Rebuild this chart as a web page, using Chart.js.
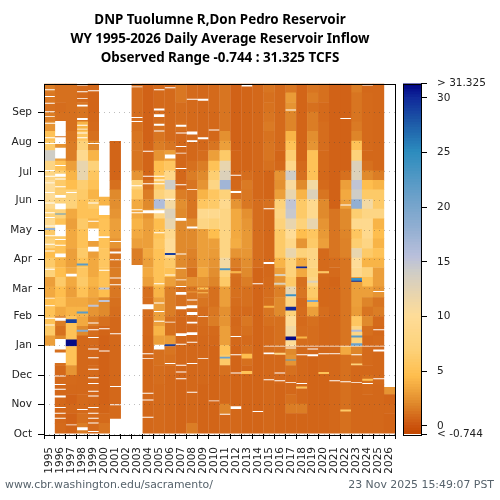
<!DOCTYPE html>
<html>
<head>
<meta charset="utf-8">
<title>Don Pedro Reservoir Inflow</title>
<script src="https://cdn.jsdelivr.net/npm/chart.js@4"></script>
<style>
    html, body { margin: 0; padding: 0; background: #fff; }
    canvas { position: absolute; left: 0; top: 0; }
    #heading { position: absolute; left: 0; top: 10px; width: 440px; text-align: center; font: bold 13.4px/19px "Noto Sans", sans-serif; color: #000; white-space: nowrap; }
    .foot { position: absolute; top: 478px; font: 10.9px/14px "DejaVu Sans", sans-serif; color: #56626b; white-space: nowrap; }
</style>
</head>
<body>
<canvas id="heat" width="500" height="500"></canvas>
<canvas id="bar" width="500" height="500"></canvas>
<div id="heading">DNP Tuolumne R,Don Pedro Reservoir<br>WY 1995-2026 Daily Average Reservoir Inflow<br>Observed Range -0.744 : 31.325 TCFS</div>
<div class="foot" style="left:5px">www.cbr.washington.edu/sacramento/</div>
<div class="foot" style="right:6px">23 Nov 2025 15:49:07 PST</div>
<script>
const years = ['1995','1996','1997','1998','1999','2000','2001','2002','2003','2004','2005','2006','2007','2008','2009','2010','2011','2012','2013','2014','2015','2016','2017','2018','2019','2020','2021','2022','2023','2024','2025','2026'];
const monthNames = ['Oct','Nov','Dec','Jan','Feb','Mar','Apr','May','Jun','Jul','Aug','Sep'];
const monthDays = [0,31,61,92,123,151,182,212,243,273,304,335];
const barTicks = [0,5,10,15,20,25,30];

// kcfs, three values per month, Oct first
const wy1995 = [null,null,null, null,null,null, null,null,null, 3,6,5, 5,4.5,3.5, 3,7,6, 4.5,7,6, 9,7,9, 10,10,8, 8,14,6, 5,2.5,1.5, 1,1.3,1.5];
const wy1996 = [.8,.7,.7, .7,.7,.8, .7,1,1, 2,1,1.5, 3.5,5,4.5, 6,4.5,4, 5,5,6, 5,7,7, 6.5,6,6.5, 5,3,2.5, 1.2,1,1, .9,1,1];
const wy1997 = [.6,.5,.7, .5,.7,.8, 2.5,5,5, 5,5,5, 4,3.5,3, 3.5,3.5,3, 3,3.5,3.5, 3,3.5,7, 7,4.5,4, 3,1.5,1.5, 1.3,1,1, 1,1,1];
const wy1998 = [1.5,1,.8, .8,.7,.7, .7,.7,.7, .7,2,3.5, 4,3.5,5, 6,5.5,5, 6,5,5, 6,5,5, 6,6.5,12, 12,9,7, 5.5,4,1.2, 1.2,.8,.8];
const wy1999 = [.8,.8,.8, .7,.7,.7, .8,.7,.7, .8,.9,1.5, 2.5,3,3.5, 4,3.5,3.5, 3,3,4, 4,5,6, 4,5,5.5, 7,4,2, 1,.8,.7, .6,.6,.7];
const wy2000 = [1.2,.8,.6, .5,.5,.5, .5,.5,.5, .5,.6,1, 2,2,4.5, 5,5,5.5, 5.5,5,5, 5,4.5,4, 4,null,null, null,null,null, null,null,null, null,null,null];
const wy2001 = [null,.8,.8, .7,.7,.7, .7,.7,.7, .7,.7,.7, .9,1,1.3, 1.3,1.5,1.3, 1.2,2.5,3, 3,2.5,2.2, 2,1,.6, .6,.6,.6, null,null,null, null,null,null];
const wy2002 = [null,null,null, null,null,null, null,null,null, null,null,null, null,null,null, null,null,null, null,null,null, null,null,null, null,null,null, null,null,null, null,null,null, null,null,null];
const wy2003 = [null,null,null, null,null,null, null,null,null, null,null,null, null,null,null, null,null,1.5, 1.5,3,3.5, 4,3.5,3.5, 5.5,7,2.5, 1.2,1.2,1.3, 1.2,1,.9, .9,.9,.9];
const wy2004 = [.7,.7,.7, .7,.7,.7, .7,.7,.7, .7,.8,.8, .9,.9,1, 3,3.5,3, 3.5,3,3, 3,2.5,2, 1.5,1,.6, .6,.6,.6, .5,.5,.5, .5,.5,.5];
const wy2005 = [.8,.8,.8, .8,.8,.9, .9,1,1, 3,4,3, 3,3,4, 5,5,5, 5,5.5,5, 4.5,8,16, 7,6,5, 4.5,2.5,1.5, 1.2,1,.9, .8,.8,.8];
const wy2006 = [.7,.7,.7, .7,.7,.7, .8,1,1.2, 2.8,1,1, 1.5,1.5,1.5, 3,5,6, 10,10,9, 12,13,11, 9,14,8.5, 5.5,3,1.2, .8,.8,.8, .8,.8,.8];
const wy2007 = [.6,.6,.6, .6,.6,.6, .6,.7,.7, .7,.7,.7, .8,1,1, 2,2.2,2, 2,2,2, 2,2,2.2, 1.5,.8,.7, .7,.7,.7, .7,1,.9, .9,1.3,1.3];
const wy2008 = [1.5,.7,.7, .7,.7,.7, .7,.7,.7, .7,.7,.8, .9,1.2,1.2, 2.3,1,1.5, 1.7,2,2, 2,1.2,1.2, 1.2,1.2,1.5, 1,.7,.7, .8,.8,.8, .8,.8,.8];
const wy2009 = [.6,.6,.6, .6,.6,.7, .7,.7,.7, .7,.8,.9, .9,1.2,1.5, 2.5,3.5,3, 3,3,3, 8,9,5.5, 4,2.5,2, 1.5,.9,.7, .7,.7,.7, .7,.7,.7];
const wy2010 = [.6,.6,.6, .6,.6,.6, .6,.6,.6, .7,.8,1.5, 1.3,1,1, 1.8,2.2,2.5, 2.8,3,4.5, 7,9,6, 5.5,8,6.5, 5,3,1.2, .7,.7,.7, .8,.8,.8];
const wy2011 = [.7,.7,1.8, .8,.8,.8, 1,6,5, 3,3,2.5, 2.3,3,3, 6,7,11, 8,8,8, 8,8,9, 7,17,13, 12,6,3, 2.3,1.2,1.2, 1.2,1.2,1.2];
const wy2012 = [.7,.7,.7, .6,.6,.6, .6,.6,.6, .7,.8,.7, .8,.9,1, .9,1,1.5, 2.5,3.7,3.5, 3.5,3.5,2.5, 1.1,.7,.6, .6,.6,.5, .5,.5,.5, .5,.5,.5];
const wy2013 = [.6,.6,.6, .6,.6,.6, .7,1,1, .8,1,1.3, .8,1,1, 1.5,2,2.2, 2.6,2.7,2.7, 2.6,2.3,1.3, 1.3,1.4,.9, .6,.6,.6, .6,.6,.6, .6,.6,.6];
const wy2014 = [.6,.6,.6, .6,.6,.6, .6,.6,.6, .6,.6,.6, .6,.6,.6, .6,.6,.9, .9,.9,.9, .9,.9,.9, .7,.7,.7, .7,.7,.7, .7,.7,.7, .7,.7,.7];
const wy2015 = [.7,.7,.7, .7,.7,.7, .7,.7,.9, .8,.8,1, 1.2,1,.9, .8,.7,.7, .7,.7,.7, .7,.7,1, .6,.6,.6, 1,1.2,1.2, 1.1,1.4,1.2, 1.1,1,1.2];
const wy2016 = [.6,.6,.6, .6,.6,.7, .7,.7,1, 1,1,1, 2,2,1.6, 2.5,3,4, 6,6,6, 7,8,7, 3,2.3,2.5, .7,.6,.8, .8,.8,.8, .8,.8,.8];
const wy2017 = [.6,.6,1.5, 1,.7,.7, 1,2.5,2, 10,11,10, 7,8,12, 6,7,7, 12,8.5,10, 12,14.5,15, 12,10.5,14, 8.5,6.5,5, 4,1.8,1.8, 2.5,2.8,1.3];
const wy2018 = [.6,.6,1.5, .7,.7,.7, .7,.7,.8, .9,.9,.8, .9,.8,1.2, 1,3.5,3.5, 7,2.5,4.5, 7,6,6, 4,2,1, .8,.6,.6, .6,.6,.6, .6,.6,.6];
const wy2019 = [.6,.6,.6, .6,.6,.6, .6,.6,.7, .9,.9,1, 3,5,6, 8,7,8, 8,6,5.5, 12,9,9, 13,11,5, 5,5,2.5, 2.2,1.5,1.5, 1,1.5,1.2];
const wy2020 = [.6,.6,.6, .6,.6,.6, .7,.7,.7, .7,.7,.7, .9,.7,.7, .7,.8,.8, .8,3,2.7, 2.5,2,2, 1.2,.8,.7, .8,.8,.9, .9,.9,.8, .8,1,1];
const wy2021 = [.7,.7,.7, .7,.7,.7, .7,.7,.8, .7,.7,.7, .7,.7,.7, .6,.8,.9, 1.2,1.2,1.2, 1.2,1.2,.5, .5,.5,.5, .5,.5,.5, .5,.5,.5, .5,.5,.5];
const wy2022 = [1,1,1, 1,1,1, 1,1,3.5, 1.2,1.2,1.2, 1.2,1.2,1.2, 1.2,1.2,1.2, 1.7,1.7,1.8, 2,2,3, 3.5,3,1, .5,.5,.5, .5,.5,.5, .5,.5,.5];
const wy2023 = [.7,.7,.7, .7,.7,.7, .7,1.2,1.8, 7,8,5.5, 2.8,3,3, 3,9,10, 12,6.5,5.5, 9,6.5,18, 14,15,13, 13,7,5, 1.8,1.4,1.2, 1.2,1.2,1.5];
const wy2024 = [.7,.7,.7, .7,.8,1, .7,.8,.8, .7,1,2, 1.2,1.8,3, 5,7,4, 6,8,9, 9,8,11, 6,4.5,2, 1,.7,.8, .8,.8,.8, .8,.8,.7];
const wy2025 = [.7,.7,.7, .7,.7,.8, .7,.7,.7, .8,.7,.8, 1.5,1.2,2.5, 3,3,4, 5,4,4.5, 4,8,6, 6,4,1.5, .7,.7,.7, .7,.7,.7, .7,.7,.7];
const wy2026 = [.6,.6,.7, .6,2.5,null, null,null,null, null,null,null, null,null,null, null,null,null, null,null,null, null,null,null, null,null,null, null,null,null, null,null,null, null,null,null];

// days without a reading: year, first day of water year, number of days
const gaps = [
    [1995,358,1],[1995,351,1],[1995,344,1],[1995,335,1],[1995,330,1],[1995,323,1],[1995,308,1],[1995,302,1],[1995,274,1],[1995,268,1],[1995,261,1],[1995,251,1],[1995,240,1],[1995,230,1],[1995,225,1],[1995,216,1],[1995,206,1],[1995,197,1],[1995,190,1],[1995,171,1],[1995,141,1],[1995,133,1],[1995,120,1],[1995,113,1],
    [1996,16,1],[1996,21,1],[1996,27,1],[1996,38,2],[1996,46,1],[1996,51,1],[1996,60,1],[1996,74,11],[1996,88,11],[1996,118,3],[1996,184,4],[1996,196,1],[1996,202,1],[1996,206,12],[1996,234,6],[1996,246,3],[1996,257,1],[1996,265,1],[1996,268,3],[1996,279,1],[1996,287,2],[1996,289,9],[1996,302,7],[1996,310,16],
    [1997,9,1],[1997,164,3],[1997,251,1],
    [1998,25,1],[1998,4,3],[1998,308,1],[1998,313,1],[1998,317,1],[1998,321,1],[1998,327,2],[1998,341,2],[1998,349,1],[1998,356,1],[1998,363,2],
    [1999,2,1],[1999,11,1],[1999,16,1],[1999,21,1],[1999,27,1],[1999,39,1],[1999,44,1],[1999,52,1],[1999,58,1],[1999,67,1],[1999,79,1],[1999,88,1],[1999,100,1],[1999,108,1],[1999,115,1],[1999,190,5],[1999,201,13],[1999,221,1],[1999,240,1],[1999,302,1],[1999,357,1],
    [2000,86,1],[2000,109,1],[2000,170,1],[2000,204,2],[2000,228,10],[2000,247,118],
    [2001,10,6],[2001,30,1],[2001,49,1],[2001,104,1],[2001,155,1],[2001,162,1],[2001,181,1],[2001,188,2],[2001,200,1],
    [2003,172,4],[2003,230,1],[2003,233,1],[2003,258,1],[2003,325,1],[2003,329,1],[2003,361,1],
    [2004,17,1],[2004,35,1],[2004,42,1],[2004,78,1],[2004,83,1],[2004,130,5],[2004,230,3],[2004,260,1],[2004,268,1],[2004,294,1],
    [2005,88,5],[2005,117,1],[2005,127,1],[2005,136,1],[2005,156,1],[2005,209,1],[2005,230,3],[2005,260,1],[2005,264,1],[2005,268,1],[2005,315,1],[2005,321,2],[2005,330,3],[2005,337,2],[2005,358,1],
    [2006,73,1],[2006,116,1],[2006,165,1],[2006,244,1],[2006,287,4],[2006,360,1],
    [2007,57,1],[2007,64,1],[2007,71,1],[2007,93,1],[2007,102,3],[2007,130,3],[2007,145,3],[2007,153,1],[2007,160,1],[2007,172,1],[2007,187,1],[2007,222,3],[2007,259,1],[2007,276,1],[2007,292,1],[2007,299,1],[2007,313,1],[2007,320,2],
    [2008,43,1],[2008,73,1],[2008,95,1],[2008,103,3],[2008,115,2],[2008,124,3],[2008,131,3],[2008,139,1],[2008,214,2],[2008,254,1],[2008,304,2],[2008,312,3],[2008,348,1],
    [2009,78,1],[2009,122,1],[2009,307,2],[2009,347,2],
    [2010,34,1],[2010,316,1],
    [2011,20,1],
    [2012,26,3],[2012,63,1],[2012,82,1],[2012,101,1],[2012,251,2],[2012,269,1],
    [2013,362,2],
    [2014,23,1],[2014,156,1],
    [2015,56,1],[2015,83,2],[2015,91,1],[2015,177,2],[2015,234,1],
    [2016,55,1],[2016,63,1],[2016,91,1],
    [2017,53,1],[2017,89,1],[2017,91,1],[2017,337,1],
    [2018,52,1],[2018,82,1],[2018,91,1],
    [2019,81,2],[2019,88,1],[2019,91,1],
    [2020,91,1],[2020,83,1],
    [2021,55,1],[2021,83,1],[2021,91,1],
    [2022,54,1],[2022,91,1],[2022,238,1],[2022,328,1],
    [2023,53,1],[2023,82,1],[2023,91,1],
    [2024,52,1],[2024,91,1],[2024,363,1],
    [2025,57,1],[2025,86,2],[2025,91,1],[2025,108,1],[2025,148,1],
    [2026,49,316]
];

// short events that stand out from the ten day values: year, first day, number of days, kcfs
const peaks = [
    [1995,212,2,18],[1996,228,1,22],[1997,91,7,31],[1997,115,4,29],[1998,106,2,19],[1998,125,2,22],[1998,175,2,22],
    [1999,132,2,15],[2000,137,2,15],[2000,150,2,15],[2006,91,2,29],[2006,186,2,29],[2008,147,1,3],[2009,146,1,4],[2009,150,2,5],[2011,78,2,21],[2011,170,2,23],
    [2012,167,2,4],[2013,62,3,5],[2013,78,5,4.5],[2015,131,2,4],[2016,82,2,8],[2016,155,2,13],[2016,164,2,13],
    [2017,76,1,22],[2017,97,4,31],[2017,128,4,30],[2017,143,2,24],[2018,47,2,5],[2018,99,2,4],[2018,172,2,30],[2019,137,2,20],[2019,157,2,13],
    [2020,62,2,5],[2020,167,2,5.5],[2022,23,2,6],[2023,71,2,7],
    [2023,92,2,21],[2023,100,2,22],[2023,106,2,16],[2023,158,1,30],[2023,159,3,24],[2024,55,2,5]
];

const inflow = [wy1995,wy1996,wy1997,wy1998,wy1999,wy2000,wy2001,wy2002,wy2003,wy2004,wy2005,wy2006,wy2007,wy2008,wy2009,wy2010,wy2011,wy2012,wy2013,wy2014,wy2015,wy2016,wy2017,wy2018,wy2019,wy2020,wy2021,wy2022,wy2023,wy2024,wy2025,wy2026];

const barMin = -0.744;
const barMax = 31.325;
const rampStops = [
    [-0.744,'#c44800'],[0,'#cc5510'],[2,'#e08a2c'],[4.5,'#febe4e'],[7,'#fdd27a'],[10,'#fedc98'],[12,'#e8d5ae'],[14,'#cfcdc6'],
    [15.5,'#b8bfdc'],[18,'#92afd2'],[21,'#6aa0c9'],[25,'#2c8cbe'],[28,'#1b53a5'],[30,'#10289a'],[31.325,'#000080']
];

function hexToRgb(hex) {
    return [parseInt(hex.slice(1, 3), 16), parseInt(hex.slice(3, 5), 16), parseInt(hex.slice(5, 7), 16)];
}

function rampColor(value) {
    for (let i = 1; i < rampStops.length; i += 1) {
        if (value <= rampStops[i][0]) {
            const a = rampStops[i - 1];
            const b = rampStops[i];
            const t = Math.max(0, (value - a[0]) / (b[0] - a[0]));
            const c1 = hexToRgb(a[1]);
            const c2 = hexToRgb(b[1]);
            return `rgb(${c1.map((c, k) => Math.round(c + (c2[k] - c) * t)).join(',')})`;
        }
    }
    return rampStops[rampStops.length - 1][1];
}

// one year: daily values from the ten day readings, gaps and peaks, merged into runs
function yearRuns(yearIndex) {
    const year = Number(years[yearIndex]);
    const series = inflow[yearIndex];
    const days = [];
    for (let d = 0; d < 365; d += 1) {
        const v = series[Math.floor(d * series.length / 365)];
        days.push(v === undefined ? null : v);
    }
    peaks.filter((p) => p[0] === year).forEach((p) => {
        for (let d = p[1]; d < p[1] + p[2]; d += 1) days[d] = p[3];
    });
    gaps.filter((g) => g[0] === year).forEach((g) => {
        for (let d = g[1]; d < Math.min(365, g[1] + g[2]); d += 1) days[d] = null;
    });
    const runs = [];
    let start = 0;
    for (let d = 1; d <= 365; d += 1) {
        if (d === 365 || days[d] !== days[start]) {
            if (days[start] !== null) {
                // small overlap so no white seam shows between touching bars
                const end = d < 365 && days[d] !== null ? d + 0.5 : d;
                runs.push({ from: start, to: end, value: days[start] });
            }
            start = d;
        }
    }
    return runs;
}

const allRuns = years.map((_, i) => yearRuns(i));
const maxRuns = Math.max(...allRuns.map((r) => r.length));
const heatSets = [];
for (let k = 0; k < maxRuns; k += 1) {
    heatSets.push({
        data: allRuns.map((r) => (r[k] ? [r[k].from, r[k].to] : null)),
        backgroundColor: allRuns.map((r) => (r[k] ? rampColor(r[k].value) : 'transparent')),
        borderWidth: 0,
        grouped: false,
        barPercentage: 1.03,
        categoryPercentage: 1
    });
}

const frame = {
    id: 'frame',
    afterDraw(chart) {
        const { ctx, chartArea: a } = chart;
        ctx.save();
        ctx.strokeStyle = '#000';
        ctx.lineWidth = 1;
        ctx.strokeRect(Math.round(a.left) + 0.5, Math.round(a.top) + 0.5, Math.round(a.right - a.left), Math.round(a.bottom - a.top));
        ctx.restore();
    }
};

const tickFont = { family: 'DejaVu Sans', size: 10.5 };

new Chart(document.getElementById('heat'), {
    type: 'bar',
    data: { labels: years, datasets: heatSets },
    plugins: [frame],
    options: {
        responsive: false,
        animation: false,
        layout: { padding: { top: 83.5, left: 0, right: 105, bottom: 0 } },
        plugins: { legend: { display: false }, tooltip: { enabled: false } },
        scales: {
            x: {
                afterFit(scale) { scale.height = 66; },
                grid: { drawOnChartArea: false, tickLength: 5, tickColor: '#000' },
                border: { display: false },
                ticks: { autoSkip: false, minRotation: 90, maxRotation: 90, color: '#222', padding: 8, font: tickFont }
            },
            y: {
                min: 0,
                max: 365,
                afterFit(scale) { scale.width = 44; },
                afterBuildTicks(scale) { scale.ticks = monthDays.map((value) => ({ value })); },
                grid: { z: 1, color: 'rgba(70,70,70,0.35)', tickLength: 6, tickColor: '#000' },
                border: { display: false, dash: [1, 4] },
                ticks: {
                    color: '#222',
                    padding: 6,
                    font: tickFont,
                    callback: (value) => monthNames[monthDays.indexOf(value)]
                }
            }
        }
    }
});

const barLevels = [];
for (let v = barMin; v < barMax; v += 0.25) barLevels.push(v);

new Chart(document.getElementById('bar'), {
    type: 'bar',
    data: {
        labels: ['inflow'],
        datasets: barLevels.map((v) => ({
            data: [[v, Math.min(barMax, v + 0.3)]],
            backgroundColor: rampColor(v + 0.125),
            borderWidth: 0,
            grouped: false,
            barPercentage: 1,
            categoryPercentage: 1
        }))
    },
    plugins: [frame],
    options: {
        responsive: false,
        animation: false,
        layout: { padding: { top: 83.5, left: 403, right: 0, bottom: 0 } },
        plugins: { legend: { display: false }, tooltip: { enabled: false } },
        scales: {
            x: {
                afterFit(scale) { scale.height = 66; },
                grid: { display: false },
                border: { display: false },
                ticks: { display: false }
            },
            y: {
                position: 'right',
                min: barMin,
                max: barMax,
                afterFit(scale) { scale.width = 79; },
                afterBuildTicks(scale) { scale.ticks = [barMin, ...barTicks, barMax].map((value) => ({ value })); },
                grid: { drawOnChartArea: false, tickLength: 6, tickColor: '#000' },
                border: { display: false },
                ticks: {
                    autoSkip: false,
                    color: '#222',
                    padding: 10,
                    font: tickFont,
                    callback(value) {
                        if (value === barMin) return '< -0.744';
                        if (value === barMax) return '> 31.325';
                        return String(value);
                    }
                }
            }
        }
    }
});
</script>
</body>
</html>
